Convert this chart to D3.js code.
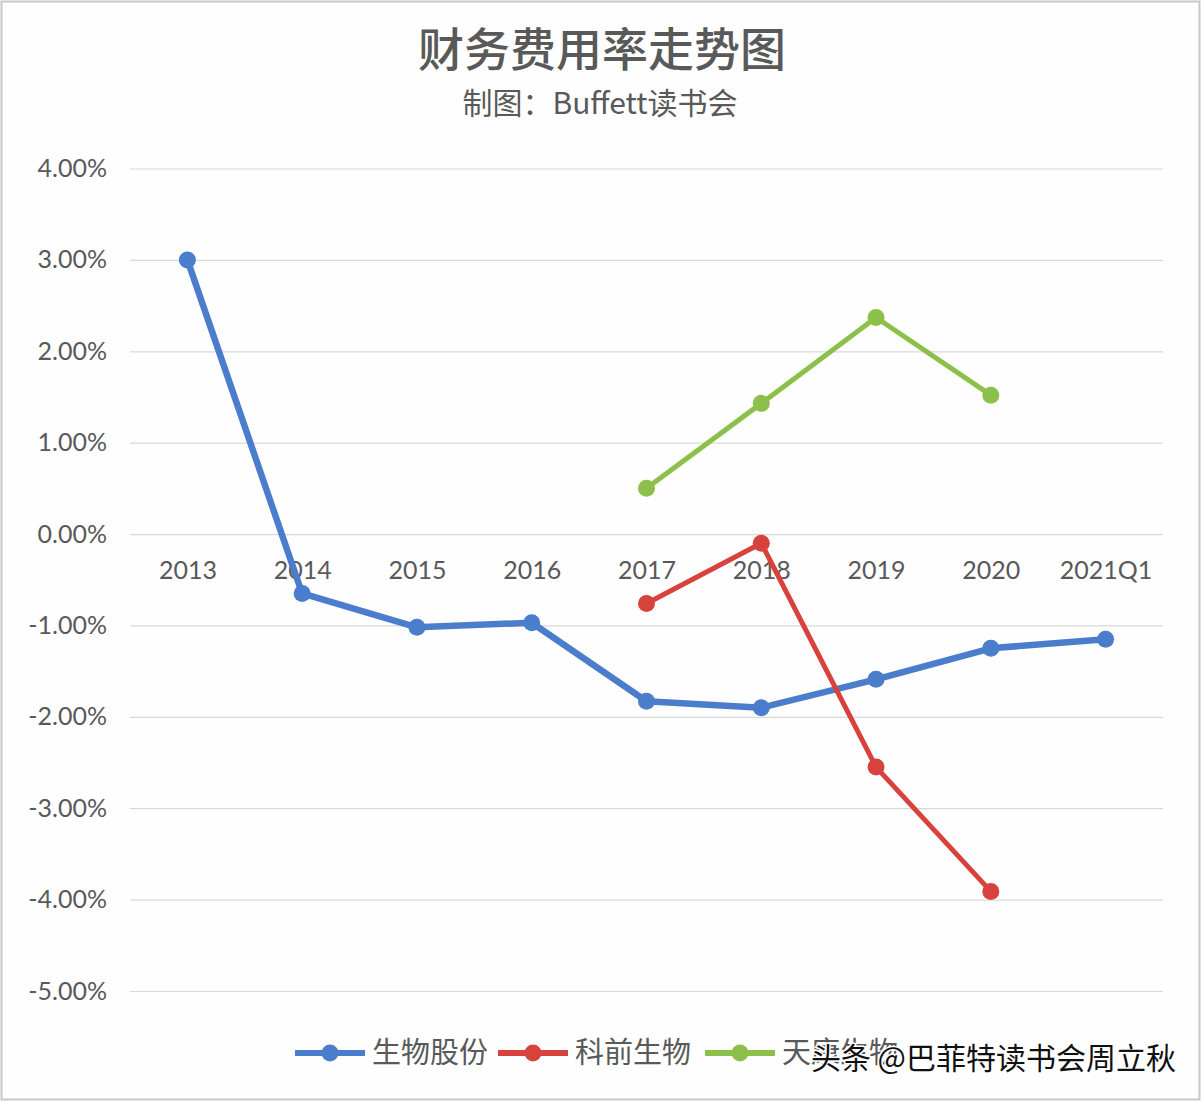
<!DOCTYPE html>
<html><head><meta charset="utf-8">
<script src="https://cdn.jsdelivr.net/npm/d3@7"></script>
<style>
html,body{margin:0;padding:0;background:#fff;}
svg{display:block;}
</style></head>
<body>
<svg id="chart" width="1204" height="1104"></svg>
<script>
const categories = ["2013","2014","2015","2016","2017","2018","2019","2020","2021Q1"];
const seriesNames = ["生物股份","科前生物","天康生物"];
const seriesColors = ["#4a7dcc","#d8423c","#8dc04b"];
const shengwuValues = [3.00,-0.65,-1.02,-0.97,-1.83,-1.90,-1.59,-1.25,-1.15];
const kqianValues   = [null,null,null,null,-0.76,-0.10,-2.55,-3.91,null];
const tiankangValues= [null,null,null,null,0.50,1.43,2.37,1.52,null];
const yTicks = [4,3,2,1,0,-1,-2,-3,-4,-5];
const titleText = "财务费用率走势图";
const subtitleText = "制图：Buffett读书会";
const watermarkText = "头条 @巴菲特读书会周立秋";

const allSeries = [shengwuValues,kqianValues,tiankangValues];
const svg = d3.select("#chart");
const cjk = "'Noto Sans CJK SC','Noto Sans',sans-serif";
const latin = "Lato,'Noto Sans CJK SC',sans-serif";
const textColor = "#595959";

svg.append("rect").attr("x",1.5).attr("y",1.5).attr("width",1198).attr("height",1098)
  .attr("fill","#fefefe").attr("stroke","#c8c8c8").attr("stroke-width",2);

const x = d3.scalePoint().domain(categories).range([130,1163]).padding(0.5);
const y = d3.scaleLinear().domain([-5,4]).range([991,168.5]);

// title
svg.append("text").attr("x",602).attr("y",66).attr("text-anchor","middle")
  .attr("font-family",cjk).attr("font-size",46).attr("font-weight",500)
  .attr("fill",textColor).text(titleText);
svg.append("text").attr("x",600).attr("y",113.5).attr("text-anchor","middle")
  .attr("font-family",cjk).attr("font-size",30)
  .attr("fill",textColor).text(subtitleText);

// y axis + grid
const yAxis = d3.axisLeft(y).tickValues(yTicks)
  .tickFormat(d => d3.format(".2f")(d).replace("\u2212","-") + "%")
  .tickSize(-(1163-130)).tickPadding(23);
const gy = svg.append("g").attr("transform","translate(130,0)").call(yAxis);
gy.select(".domain").remove();
gy.selectAll(".tick line").attr("stroke","#d9d9d9").attr("stroke-width",1.2);
gy.selectAll(".tick text").attr("font-family",latin).attr("font-size",25)
  .attr("fill",textColor);

// x axis labels
const xAxis = d3.axisBottom(x).tickSize(0).tickPadding(0);
const gx = svg.append("g").attr("transform",`translate(0,${y(0)})`).call(xAxis);
gx.select(".domain").remove();
gx.selectAll(".tick text").attr("font-family",latin).attr("font-size",25)
  .attr("fill",textColor).attr("y",36).attr("dy","0.35em");

// lines
const line = d3.line().defined(d => d.v !== null).x(d => x(d.c)).y(d => y(d.v));
allSeries.forEach((vals,i) => {
  const data = categories.map((c,j) => ({c:c, v:vals[j]}));
  const g = svg.append("g");
  g.append("path").datum(data).attr("d",line).attr("fill","none")
    .attr("stroke",seriesColors[i]).attr("stroke-width",i===0?6.5:5)
    .attr("stroke-linejoin","round").attr("stroke-linecap","round");
  g.selectAll("circle").data(data.filter(d => d.v !== null)).join("circle")
    .attr("cx",d => x(d.c)).attr("cy",d => y(d.v)).attr("r",8.5)
    .attr("fill",seriesColors[i]);
});

// legend
const legendY = 1053;
const legendX = [295,498,705];
seriesNames.forEach((name,i) => {
  const g = svg.append("g").attr("transform",`translate(${legendX[i]},${legendY})`);
  g.append("line").attr("x1",0).attr("x2",70).attr("y1",0).attr("y2",0)
    .attr("stroke",seriesColors[i]).attr("stroke-width",6);
  g.append("circle").attr("cx",35).attr("cy",0).attr("r",8.5).attr("fill",seriesColors[i]);
  g.append("text").attr("x",77).attr("y",0).attr("dy","0.35em")
    .attr("font-family",cjk).attr("font-size",29).attr("fill",textColor).text(name);
});

// watermark
svg.append("text").attr("x",1176).attr("y",1058).attr("dy","0.35em").attr("text-anchor","end")
  .attr("font-family",cjk).attr("font-size",30).attr("fill","#111")
  .attr("stroke","#fff").attr("stroke-width",3).attr("paint-order","stroke")
  .text(watermarkText);
</script>
</body></html>
